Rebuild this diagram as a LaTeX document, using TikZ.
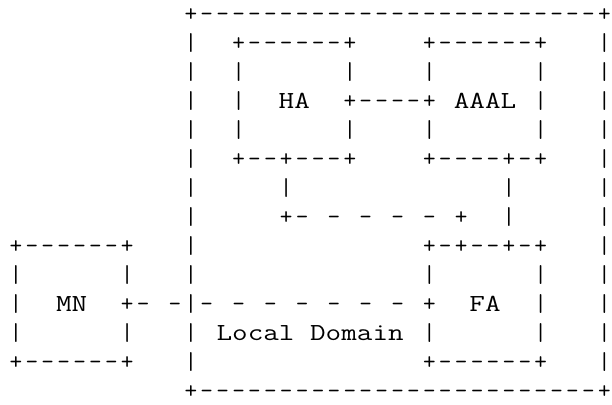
\documentclass[tikz,border=0pt]{standalone}
\usepackage{graphicx}
\usepackage{tikz}

% one character cell of the ascii picture: 15.9pt wide, 29.05pt high
\tikzset{
  cell/.style={inner sep=0pt, outer sep=0pt, anchor=base, yshift=-6.5pt,
    font=\ttfamily\fontsize{24.5}{29}\selectfont},
  word/.style={cell}
}
\newcommand{\widetext}[1]{\scalebox{1.236}[1]{#1}}

\begin{document}
\begin{tikzpicture}[x=15.9pt, y=-29.05pt]
    \useasboundingbox (-1.0063,-0.4991) rectangle (37.484,13.442);

    % Local Domain frame
    \node[cell] (ldTL) at (11,0) {+};
    \node[cell] (ldTR) at (37,0) {+};
    \node[cell] (ldBL) at (11,13) {+};
    \node[cell] (ldBR) at (37,13) {+};
    \foreach \c in {12,...,36} {
        \node[cell] (ldT\c) at (\c,0) {-};
        \node[cell] (ldB\c) at (\c,13) {-};
    }
    \foreach \r in {1,...,12} {
        \node[cell] (ldL\r) at (11,\r) {|};
        \node[cell] (ldR\r) at (37,\r) {|};
    }

    % HA
    \node[cell] (haTL) at (14,1) {+};
    \node[cell] (haTR) at (21,1) {+};
    \foreach \c in {15,...,20} \node[cell] (haT\c) at (\c,1) {-};
    \foreach \r in {2,3,4} \node[cell] (haL\r) at (14,\r) {|};
    \node[cell] (haR2) at (21,2) {|};
    \node[cell] (haE) at (21,3) {+};
    \node[cell] (haR4) at (21,4) {|};
    \node[cell] (haBL) at (14,5) {+};
    \node[cell] (haB15) at (15,5) {-};
    \node[cell] (haB16) at (16,5) {-};
    \node[cell] (haS) at (17,5) {+};
    \foreach \c in {18,19,20} \node[cell] (haB\c) at (\c,5) {-};
    \node[cell] (haBR) at (21,5) {+};
    \node[word] (ha) at (17.5,3) {\widetext{HA}};

    % AAAL
    \node[cell] (aaTL) at (26,1) {+};
    \node[cell] (aaTR) at (33,1) {+};
    \foreach \c in {27,...,32} \node[cell] (aaT\c) at (\c,1) {-};
    \foreach \r in {2,3,4} \node[cell] (aaR\r) at (33,\r) {|};
    \node[cell] (aaL2) at (26,2) {|};
    \node[cell] (aaW) at (26,3) {+};
    \node[cell] (aaL4) at (26,4) {|};
    \node[cell] (aaBL) at (26,5) {+};
    \foreach \c in {27,...,30} \node[cell] (aaB\c) at (\c,5) {-};
    \node[cell] (aaS) at (31,5) {+};
    \node[cell] (aaB32) at (32,5) {-};
    \node[cell] (aaBR) at (33,5) {+};
    \node[word] (aaal) at (29.5,3) {\widetext{AAAL}};

    % HA -- AAAL
    \foreach \c in {22,...,25} \node[cell] (link\c) at (\c,3) {-};

    % FA
    \node[cell] (faTL) at (26,8) {+};
    \node[cell] (faT27) at (27,8) {-};
    \node[cell] (faN) at (28,8) {+};
    \node[cell] (faT29) at (29,8) {-};
    \node[cell] (faT30) at (30,8) {-};
    \node[cell] (faNE) at (31,8) {+};
    \node[cell] (faT32) at (32,8) {-};
    \node[cell] (faTR) at (33,8) {+};
    \foreach \r in {9,10,11} \node[cell] (faR\r) at (33,\r) {|};
    \node[cell] (faL9) at (26,9) {|};
    \node[cell] (faW) at (26,10) {+};
    \node[cell] (faL11) at (26,11) {|};
    \node[cell] (faBL) at (26,12) {+};
    \node[cell] (faBR) at (33,12) {+};
    \foreach \c in {27,...,32} \node[cell] (faB\c) at (\c,12) {-};
    \node[word] (fa) at (29.5,10) {\widetext{FA}};

    % AAAL -- FA
    \node[cell] (up6) at (31,6) {|};
    \node[cell] (up7) at (31,7) {|};

    % HA - - FA
    \node[cell] (down6) at (17,6) {|};
    \node[cell] (bend) at (17,7) {+};
    \node[cell] (dash18) at (18,7) {-};
    \foreach \c in {20,22,24,26} \node[cell] (dash\c) at (\c,7) {-};
    \node[cell] (join) at (28,7) {+};

    % MN
    \node[cell] (mnTL) at (0,8) {+};
    \node[cell] (mnTR) at (7,8) {+};
    \node[cell] (mnBL) at (0,12) {+};
    \node[cell] (mnBR) at (7,12) {+};
    \foreach \c in {1,...,6} {
        \node[cell] (mnT\c) at (\c,8) {-};
        \node[cell] (mnB\c) at (\c,12) {-};
    }
    \foreach \r in {9,10,11} \node[cell] (mnL\r) at (0,\r) {|};
    \node[cell] (mnR9) at (7,9) {|};
    \node[cell] (mnE) at (7,10) {+};
    \node[cell] (mnR11) at (7,11) {|};
    \node[word] (mn) at (3.5,10) {\widetext{MN}};

    % MN - - FA
    \foreach \c in {8,10,12,14,16,18,20,22,24} \node[cell] (wire\c) at (\c,10) {-};

    \node[word] (local) at (18.5,11) {\widetext{Local Domain}};
\end{tikzpicture}
\end{document}
